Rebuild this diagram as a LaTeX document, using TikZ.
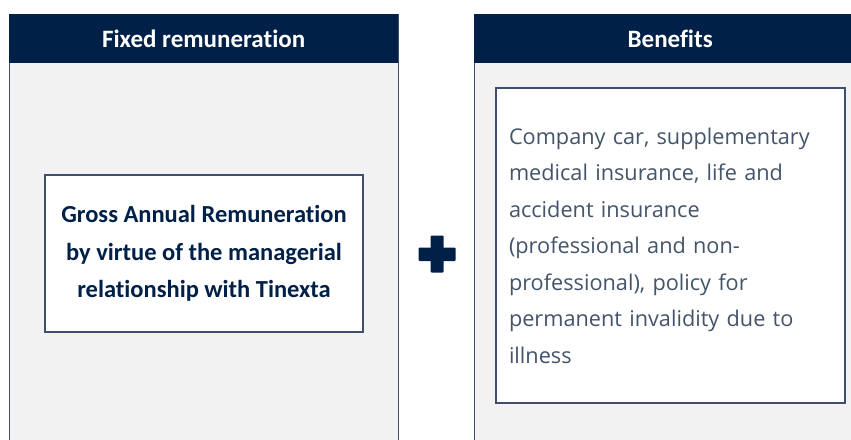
\documentclass[tikz,border=0pt]{standalone}
\usepackage{fontspec}
\setmainfont{Carlito}[Ligatures=NoCommon]
\newfontfamily\listfont{Open Sans}
\definecolor{navy}{RGB}{0,32,72}
\definecolor{edgeblue}{RGB}{62,80,110}
\definecolor{panelgrey}{RGB}{242,242,242}
\definecolor{slate}{RGB}{68,84,106}

\begin{document}
\begin{tikzpicture}
        [
            x = 1pt, y = -1pt,
            panel/.style          = {shape=rectangle, draw=edgeblue, fill=panelgrey, line width=1.2pt, anchor=north west, inner sep=0pt},
            header/.style         = {shape=rectangle, fill=navy, text=white, anchor=north west, minimum height=49pt,
                                     font=\bfseries\fontsize{25}{28}\selectfont},
            boxed/.style          = {shape=rectangle, draw=edgeblue, fill=white, line width=1.2pt},
            % every node/.style = {font=\footnotesize}
        ]
        \useasboundingbox (0,0) rectangle (851,439);
        \clip (0,0) rectangle (851,439);

        % the two columns
        \node [panel, minimum width=389pt, minimum height=440pt] (fixedpanel) at (9,14) {};
        \node [panel, minimum width=392pt, minimum height=440pt] (benefitpanel) at (474,14) {};
        \node [header, minimum width=389pt] (fixedhead) at (9,14) {Fixed remuneration};
        \node [header, minimum width=392pt] (benefithead) at (474,14) {Benefits};

        \node [boxed, minimum width=318pt, minimum height=157pt, align=center, text=navy,
               font=\bfseries\fontsize{24.5}{37.5}\selectfont] (gross) at (204,253.5)
            {Gross Annual Remuneration\\by virtue of the managerial\\relationship with Tinexta};

        \node [boxed, minimum width=349pt, minimum height=315pt, text width=323pt, align=left, text=slate,
               font=\listfont\fontsize{21.7}{36.5}\selectfont] (perks) at (670.5,245.5)
            {Company car, supplementary\\medical insurance, life and\\accident insurance\\(professional and non-\\professional), policy for\\permanent invalidity due to\\illness};

        % plus sign between the columns
        \fill [navy, rounded corners=1pt] (418.5,247.5) rectangle (455.5,261);
        \fill [navy, rounded corners=1pt] (430.5,235.5) rectangle (443.5,272.5);
\end{tikzpicture}
\end{document}
